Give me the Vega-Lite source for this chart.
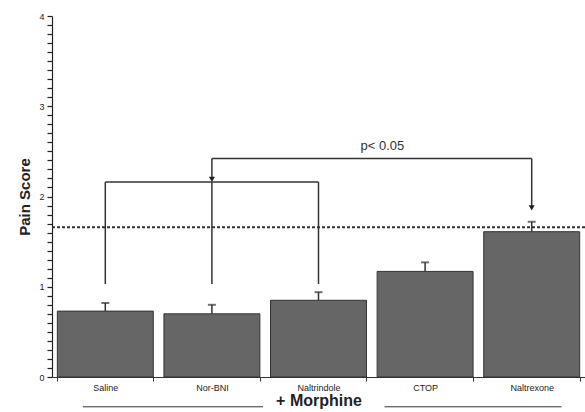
{
  "$schema": "https://vega.github.io/schema/vega-lite/v6.json",
  "width": 533,
  "height": 361,
  "autosize": {"type": "none"},
  "padding": {"left": 52, "top": 16, "right": 0, "bottom": 35},
  "background": "white",
  "config": {"view": {"stroke": null}, "font": "Liberation Sans"},
  "datasets": {
    "bars": [
      {"treatment": "Saline", "score": 0.73, "upper": 0.82},
      {"treatment": "Nor-BNI", "score": 0.70, "upper": 0.80},
      {"treatment": "Naltrindole", "score": 0.85, "upper": 0.94},
      {"treatment": "CTOP", "score": 1.17, "upper": 1.27},
      {"treatment": "Naltrexone", "score": 1.61, "upper": 1.72}
    ],
    "lines": [
      {"x": 0.5, "x2": 2.5, "y": 2.16, "y2": 2.16, "kind": "bracket"},
      {"x": 0.5, "x2": 0.5, "y": 1.03, "y2": 2.16, "kind": "bracket"},
      {"x": 1.5, "x2": 1.5, "y": 1.03, "y2": 2.16, "kind": "bracket"},
      {"x": 2.5, "x2": 2.5, "y": 1.03, "y2": 2.16, "kind": "bracket"},
      {"x": 1.5, "x2": 4.5, "y": 2.42, "y2": 2.42, "kind": "bracket"},
      {"x": 1.5, "x2": 1.5, "y": 2.42, "y2": 2.2, "kind": "bracket"},
      {"x": 4.5, "x2": 4.5, "y": 2.42, "y2": 1.88, "kind": "bracket"},
      {"x": 0.29, "x2": 1.98, "y": -0.33, "y2": -0.33, "kind": "morphine"},
      {"x": 3.12, "x2": 4.78, "y": -0.33, "y2": -0.33, "kind": "morphine"}
    ],
    "arrows": [
      {"x": 1.5, "y": 2.19},
      {"x": 4.5, "y": 1.875}
    ],
    "labels": [
      {"x": 3.1, "y": 2.56, "text": "p< 0.05"}
    ],
    "baseline": [{"y": 1.66}]
  },
  "layer": [
    {
      "data": {"name": "bars"},
      "mark": {"type": "bar", "fill": "#666666", "stroke": "#333333", "strokeWidth": 1},
      "encoding": {
        "x": {
          "field": "treatment", "type": "nominal", "sort": null,
          "scale": {"type": "band", "paddingInner": 0.1, "paddingOuter": 0.05},
          "axis": {
            "title": "+ Morphine",
            "titleFontSize": 16, "titleFontWeight": "bold", "titleColor": "#222",
            "titlePadding": 0,
            "labelAngle": 0, "labelFontSize": 9, "labelColor": "#222",
            "labelPadding": 2, "tickSize": 4, "tickColor": "#333",
            "domainColor": "#333", "tickBand": "extent"
          }
        },
        "y": {
          "field": "score", "type": "quantitative", "title": "Pain Score",
          "scale": {"domain": [0, 4], "nice": false},
          "axis": {
            "titleFontSize": 15, "titleFontWeight": "bold", "titleColor": "#222",
            "titlePadding": 6,
            "values": [0,0.1,0.2,0.3,0.4,0.5,0.6,0.7,0.8,0.9,1,1.1,1.2,1.3,1.4,1.5,1.6,1.7,1.8,1.9,2,2.1,2.2,2.3,2.4,2.5,2.6,2.7,2.8,2.9,3,3.1,3.2,3.3,3.4,3.5,3.6,3.7,3.8,3.9,4],
            "labelExpr": "abs(datum.value - round(datum.value)) < 0.001 ? format(datum.value, 'd') : ''",
            "labelOverlap": false, "labelFlush": false,
            "labelFontSize": 9, "labelColor": "#222", "labelPadding": 3,
            "tickSize": 5,
            "tickWidth": 1.2,
            "tickColor": "#222", "domainColor": "#222", "domainWidth": 1.2, "grid": false
          }
        }
      }
    },
    {
      "data": {"name": "bars"},
      "mark": {"type": "rule", "color": "#333", "strokeWidth": 1.5},
      "encoding": {
        "x": {"field": "treatment", "type": "nominal", "sort": null, "scale": {"type": "band", "paddingInner": 0.1, "paddingOuter": 0.05}, "axis": null},
        "y": {"field": "score", "type": "quantitative", "axis": null},
        "y2": {"field": "upper"}
      }
    },
    {
      "data": {"name": "bars"},
      "mark": {"type": "tick", "color": "#333", "thickness": 2, "size": 8},
      "encoding": {
        "x": {"field": "treatment", "type": "nominal", "sort": null, "scale": {"type": "band", "paddingInner": 0.1, "paddingOuter": 0.05}, "axis": null},
        "y": {"field": "upper", "type": "quantitative", "axis": null}
      }
    },
    {
      "data": {"name": "baseline"},
      "mark": {"type": "rule", "color": "#333", "strokeWidth": 2, "strokeDash": [3, 2]},
      "encoding": {
        "y": {"field": "y", "type": "quantitative", "axis": null}
      }
    },
    {
      "data": {"name": "lines"},
      "mark": {"type": "rule", "color": "#333"},
      "encoding": {
        "x": {"field": "x", "type": "quantitative", "scale": {"domain": [0, 5], "nice": false}, "axis": null},
        "x2": {"field": "x2"},
        "y": {"field": "y", "type": "quantitative", "axis": null},
        "y2": {"field": "y2"},
        "strokeWidth": {"field": "kind", "type": "nominal", "scale": {"domain": ["bracket", "morphine"], "range": [1.5, 1]}, "legend": null}
      }
    },
    {
      "data": {"name": "arrows"},
      "mark": {"type": "point", "shape": "triangle-down", "filled": true, "color": "#222", "size": 36, "opacity": 1},
      "encoding": {
        "x": {"field": "x", "type": "quantitative", "scale": {"domain": [0, 5], "nice": false}, "axis": null},
        "y": {"field": "y", "type": "quantitative", "axis": null}
      }
    },
    {
      "data": {"name": "labels"},
      "mark": {"type": "text", "fontSize": 13, "color": "#333"},
      "encoding": {
        "x": {"field": "x", "type": "quantitative", "scale": {"domain": [0, 5], "nice": false}, "axis": null},
        "y": {"field": "y", "type": "quantitative", "axis": null},
        "text": {"field": "text"}
      }
    }
  ],
  "resolve": {"scale": {"x": "independent"}, "axis": {"x": "independent", "y": "independent"}}
}
